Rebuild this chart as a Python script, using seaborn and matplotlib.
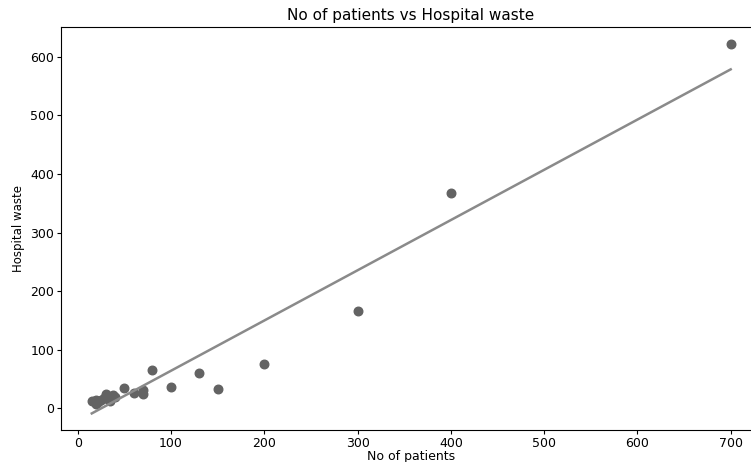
import matplotlib
matplotlib.use("Agg")
import matplotlib.pyplot as plt
import seaborn as sns
import pandas as pd

patients = [700, 400, 300, 200, 150, 130, 100, 80, 70, 70, 60, 50,
            15, 18, 20, 20, 22, 25, 28, 30, 32, 34, 35, 38, 40]
waste = [622, 367, 166, 75, 33, 60, 37, 65, 32, 25, 27, 34,
         12, 12, 8, 15, 11, 14, 18, 25, 16, 20, 12, 22, 20]

df = pd.DataFrame({"No of patients": patients, "Hospital waste": waste})

fig = plt.figure(figsize=(7.51, 4.62), dpi=100)
left_px, right_px, bottom_px, top_px = 61, 761, 430, 27
ax = fig.add_axes([left_px / 751, 1 - bottom_px / 462,
                   (right_px - left_px) / 751, (bottom_px - top_px) / 462])
sns.regplot(data=df, x="No of patients", y="Hospital waste", ci=None, ax=ax,
            scatter_kws={"color": "#636363", "alpha": 1, "s": 38},
            line_kws={"color": "#8a8a8a", "lw": 1.8})
ax.set_xlim(-18, 732.5)
ax.set_ylim(-37, 651)
ax.set_xticks([0, 100, 200, 300, 400, 500, 600, 700])
ax.set_yticks([0, 100, 200, 300, 400, 500, 600])
ax.tick_params(labelsize=9, length=3, pad=2)
ax.set_title("No of patients vs Hospital waste", fontsize=11, pad=5)
ax.set_xlabel("No of patients", fontsize=9, labelpad=0)
ax.set_ylabel("Hospital waste", fontsize=8.5, labelpad=4)
fig.savefig("out.png", dpi=100)
